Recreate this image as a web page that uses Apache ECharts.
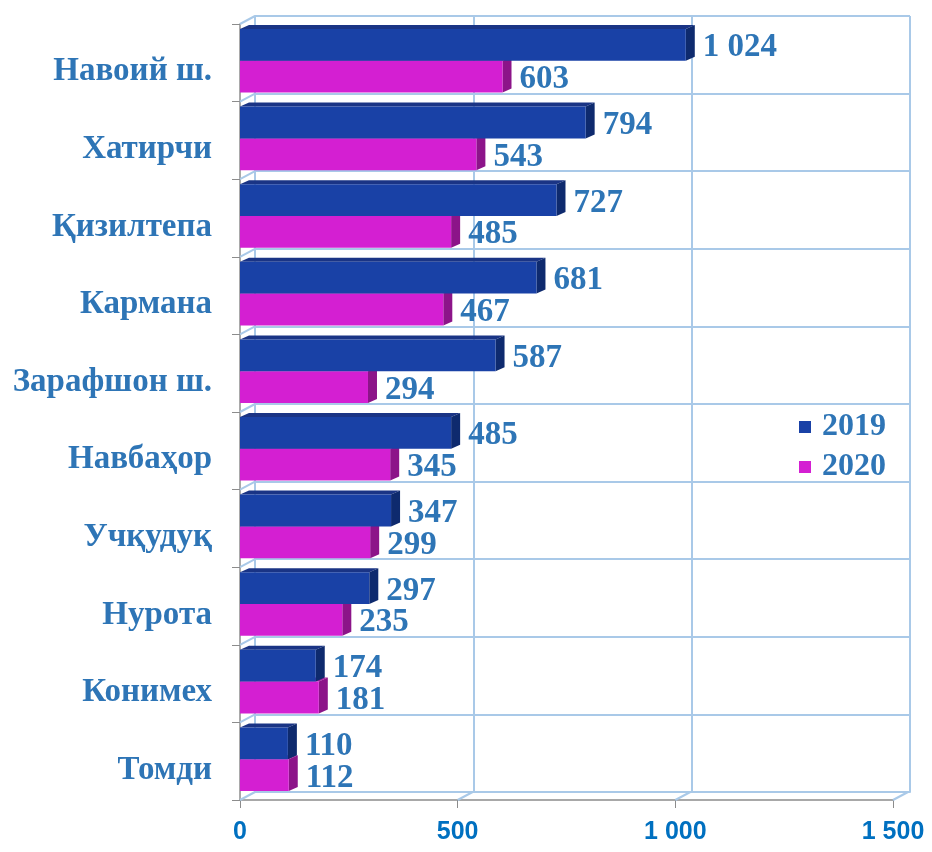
<!DOCTYPE html>
<html>
<head>
<meta charset="utf-8">
<script src="https://cdn.jsdelivr.net/npm/echarts@6/dist/echarts.min.js"></script>
<style>
  html, body { margin: 0; padding: 0; background: #fff; }
  #chart { width: 932px; height: 852px; }
</style>
</head>
<body>
<div id="chart"></div>
<script>
var districts = ['Навоий ш.', 'Хатирчи', 'Қизилтепа', 'Кармана', 'Зарафшон ш.',
                 'Навбаҳор', 'Учқудуқ', 'Нурота', 'Конимех', 'Томди'];
var values2019 = [1024, 794, 727, 681, 587, 485, 347, 297, 174, 110];
var values2020 = [603, 543, 485, 467, 294, 345, 299, 235, 181, 112];
var xTicks = [0, 500, 1000, 1500];

var labelColor = '#2e75b6';
var wallColor = '#a9c9e8';
var DX = 15, DY = 8;   // depth of the back wall

function fmt(v) {
    return String(v).replace(/\B(?=(\d{3})+(?!\d))/g, ' ');
}

// 3d-ish box bar: front face, top face and right side
function boxBar(colors, upper) {
    return function (params, api) {
        var val = api.value(0);
        var end = api.coord([val, api.value(1)]);
        var start = api.coord([0, api.value(1)]);
        var band = api.size([0, 1])[1];
        var h = band * 0.41;
        var top = upper ? end[1] - h - 2 : end[1] - 2;
        var dx = 9, dy = 4;
        var x0 = start[0], x1 = end[0];
        return {
            type: 'group',
            children: [{
                type: 'polygon',
                shape: {points: [[x0, top], [x0 + dx, top - dy], [x1 + dx, top - dy], [x1, top]]},
                style: {fill: colors[2]}
            }, {
                type: 'polygon',
                shape: {points: [[x1, top], [x1 + dx, top - dy], [x1 + dx, top + h - dy], [x1, top + h]]},
                style: {fill: colors[1]}
            }, {
                type: 'rect',
                shape: {x: x0, y: top, width: x1 - x0, height: h},
                style: {fill: colors[0]}
            }, {
                type: 'text',
                x: x1 + dx + 8,
                y: top + h / 2 + 3,
                style: {
                    text: fmt(val),
                    fill: labelColor,
                    font: 'bold 33px "Liberation Serif", serif',
                    align: 'left',
                    verticalAlign: 'middle'
                }
            }]
        };
    };
}

var myChart = echarts.init(document.getElementById('chart'));
myChart.setOption({
    backgroundColor: '#ffffff',
    animation: false,
    legend: {
        data: ['2019', '2020'],
        orient: 'vertical',
        left: 794,
        top: 406,
        icon: 'rect',
        itemWidth: 12,
        itemHeight: 12,
        itemGap: 8,
        textStyle: {
            color: labelColor,
            fontFamily: 'Liberation Serif',
            fontWeight: 'bold',
            fontSize: 32,
            padding: [0, 0, 0, 6]
        }
    },
    grid: [
        {left: 240, right: 39, top: 24, bottom: 52},
        {left: 255, right: 22, top: 16, bottom: 60}
    ],
    xAxis: [{
        gridIndex: 0,
        type: 'value',
        min: xTicks[0],
        max: xTicks[xTicks.length - 1],
        interval: 500,
        axisLine: {show: true, lineStyle: {color: '#8c8c8c', width: 1.5}},
        axisTick: {show: true, length: 8, lineStyle: {color: '#8c8c8c'}},
        splitLine: {show: false},
        axisLabel: {
            margin: 20,
            color: '#0070c0',
            fontFamily: 'Liberation Sans',
            fontWeight: 'bold',
            fontSize: 25,
            formatter: fmt
        }
    }, {
        gridIndex: 1,
        type: 'value',
        min: xTicks[0],
        max: xTicks[xTicks.length - 1],
        interval: 500,
        axisLine: {show: true, lineStyle: {color: wallColor, width: 2}},
        axisTick: {show: false},
        axisLabel: {show: false},
        splitLine: {show: true, lineStyle: {color: wallColor, width: 2}}
    }],
    yAxis: [{
        gridIndex: 0,
        type: 'category',
        inverse: true,
        data: districts,
        axisLine: {show: true, lineStyle: {color: '#8c8c8c', width: 1.5}},
        axisTick: {show: true, length: 8, lineStyle: {color: '#8c8c8c'}},
        splitLine: {show: false},
        axisLabel: {
            margin: 28,
            formatter: function (v) { return '{n|' + v + '}'; },
            rich: {
                n: {
                    color: labelColor,
                    fontFamily: 'Liberation Serif',
                    fontWeight: 'bold',
                    fontSize: 33,
                    padding: [18, 0, 0, 0]
                }
            }
        }
    }, {
        gridIndex: 1,
        type: 'category',
        inverse: true,
        data: districts,
        axisLine: {show: true, lineStyle: {color: wallColor, width: 2}},
        axisTick: {show: false},
        axisLabel: {show: false},
        splitLine: {show: true, lineStyle: {color: wallColor, width: 2}}
    }],
    series: [{
        // floor edges from the front ticks to the back wall
        name: 'floor',
        type: 'custom',
        xAxisIndex: 0,
        yAxisIndex: 0,
        silent: true,
        encode: {x: 0},
        data: xTicks.map(function (t) { return [t]; }),
        renderItem: function (params, api) {
            var p = api.coord([api.value(0), districts.length - 1]);
            var yb = p[1] + api.size([0, 1])[1] / 2;
            return {
                type: 'line',
                shape: {x1: p[0], y1: yb, x2: p[0] + DX, y2: yb - DY},
                style: {stroke: wallColor, lineWidth: 2}
            };
        },
        z: 1
    }, {
        // side wall edges at each category boundary
        name: 'side',
        type: 'custom',
        xAxisIndex: 0,
        yAxisIndex: 0,
        silent: true,
        encode: {y: 0},
        data: districts.map(function (d, i) { return [i]; }),
        renderItem: function (params, api) {
            var p = api.coord([0, api.value(0)]);
            var yt = p[1] - api.size([0, 1])[1] / 2;
            return {
                type: 'line',
                shape: {x1: p[0], y1: yt, x2: p[0] + DX, y2: yt - DY},
                style: {stroke: wallColor, lineWidth: 2}
            };
        },
        z: 1
    }, {
        name: '2020',
        type: 'custom',
        xAxisIndex: 0,
        yAxisIndex: 0,
        itemStyle: {color: '#d41fd2'},
        encode: {x: 0, y: 1},
        data: values2020.map(function (v, i) { return [v, i]; }),
        renderItem: boxBar(['#d41fd2', '#8c1489', '#a11a9e'], false),
        z: 3
    }, {
        name: '2019',
        type: 'custom',
        xAxisIndex: 0,
        yAxisIndex: 0,
        itemStyle: {color: '#1941a6'},
        encode: {x: 0, y: 1},
        data: values2019.map(function (v, i) { return [v, i]; }),
        renderItem: boxBar(['#1941a6', '#0e2a6e', '#1a3485'], true),
        z: 4
    }]
});
</script>
</body>
</html>
